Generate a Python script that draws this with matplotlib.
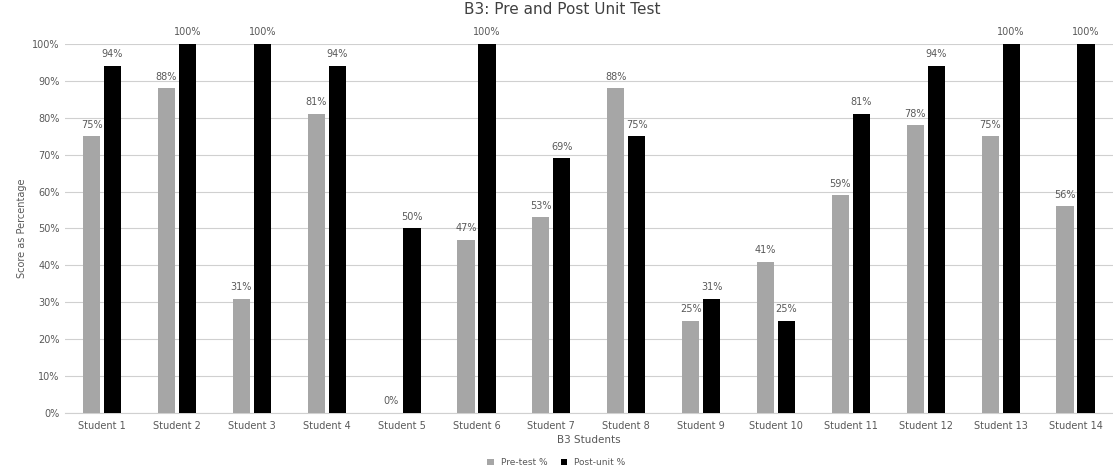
import numpy as np
import matplotlib.pyplot as plt
from matplotlib.ticker import PercentFormatter

students = ["Student %d" % i for i in range(1, 15)]
pre_test = [75, 88, 31, 81, 0, 47, 53, 88, 25, 41, 59, 78, 75, 56]
post_unit = [94, 100, 100, 94, 50, 100, 69, 75, 31, 25, 81, 94, 100, 100]

txt = "#595959"
fig = plt.figure(figsize=(11.13, 4.73), dpi=100)
ax = fig.add_axes([0.058, 0.127, 0.942, 0.78])

x = np.arange(len(students))
w = 0.23
b1 = ax.bar(x - 0.14, pre_test, w, color="#a6a6a6", label="Pre-test %", zorder=3)
b2 = ax.bar(x + 0.14, post_unit, w, color="#000000", label="Post-unit %", zorder=3)

for bars, vals in ((b1, pre_test), (b2, post_unit)):
    for r, v in zip(bars, vals):
        ax.text(r.get_x() + r.get_width() / 2, v + 1.8, "%d%%" % v,
                ha="center", va="bottom", fontsize=7, color=txt, clip_on=False)

ax.set_ylim(0, 100)
ax.set_xlim(-0.5, len(students) - 0.5)
ax.set_yticks(np.arange(0, 101, 10))
ax.yaxis.set_major_formatter(PercentFormatter(decimals=0))
ax.set_xticks(x)
ax.set_xticklabels(students)
ax.tick_params(axis="both", length=0, labelsize=7, colors=txt)
ax.tick_params(axis="x", pad=6)
ax.grid(axis="y", color="#d0d0d0", linewidth=0.8, zorder=0)
for s in ["top", "right", "left"]:
    ax.spines[s].set_visible(False)
ax.spines["bottom"].set_color("#d0d0d0")

fig.suptitle("B3: Pre and Post Unit Test", fontsize=11, color="#404040", x=0.505, y=0.995)
ax.set_xlabel("B3 Students", fontsize=7.5, color=txt, labelpad=3)
ax.set_ylabel("Score as Percentage", fontsize=7, color=txt)

fig.legend(loc="lower center", ncol=2, frameon=False, fontsize=6.5,
           bbox_to_anchor=(0.5, -0.005), handlelength=0.7, handleheight=0.7,
           labelcolor=txt, columnspacing=1.5)

fig.savefig("out.png", dpi=100)
